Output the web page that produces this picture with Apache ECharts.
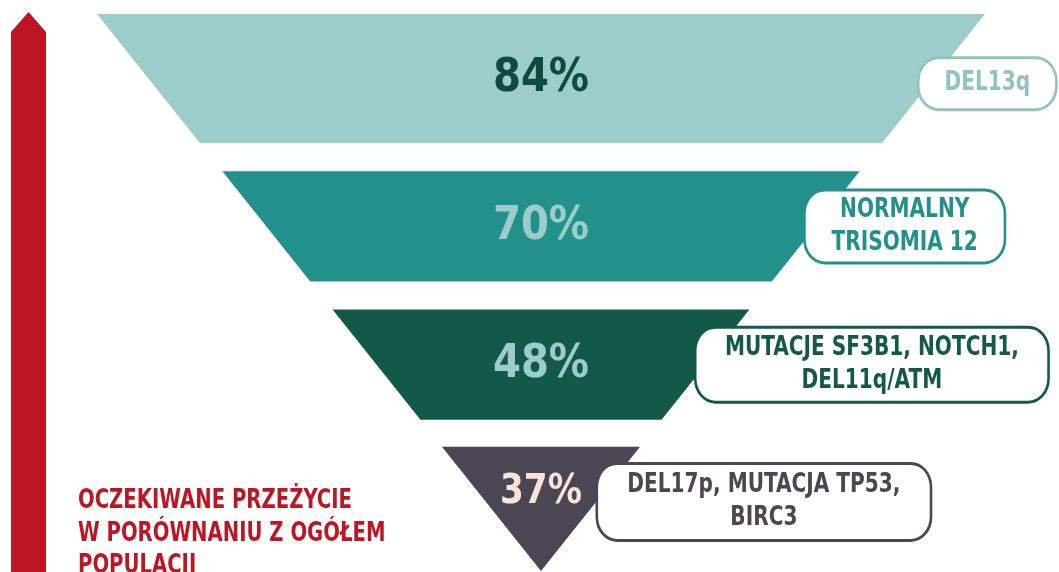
<!DOCTYPE html>
<html>
<head>
<meta charset="utf-8">
<script src="https://cdn.jsdelivr.net/npm/echarts@6/dist/echarts.min.js"></script>
<style>
  html, body { margin: 0; padding: 0; background: #fff; }
  #chart { width: 1059px; height: 572px; }
</style>
</head>
<body>
<div id="chart"></div>
<script>
// grupy genetyczne (od góry lejka) i oczekiwane przeżycie
const groups = [
  'DEL13q',
  'NORMALNY\nTRISOMIA 12',
  'MUTACJE SF3B1, NOTCH1,\nDEL11q/ATM',
  'DEL17p, MUTACJA TP53,\nBIRC3'
];
const survival = [84, 70, 48, 37];
const axisTitle = 'OCZEKIWANE PRZEŻYCIE\nW PORÓWNANIU Z OGÓŁEM\nPOPULACJI';

// style
const fills = ['#9ccdcb', '#22918c', '#12594a', '#4a4654'];
const pctColors = ['#0e4a3e', '#9ccdcb', '#9ccdcb', '#fbe3d9'];
const boxColors = ['#8fc4c1', '#22918c', '#12594a', '#4a4654'];
const pctSize = [47, 47, 47, 40];
const pctDy = [0, 0, 0, -16];
const topShift = [0, 11, 3, -6];
const bottomShift = [11, 3, -5, 0];
const boxShift = [-10, -10, -9, 2];
const boxDy = [5, 0, 0, -7];
const boxPad = [[8, 29], [2, 30], [3, 33], [4, 34]];
const FONT = '"Liberation Sans Narrow", "DejaVu Sans Condensed", "Roboto", sans-serif';
const SQUEEZE = 0.86;
const RED = '#bd1622';
const GAP = 28;

const measureCtx = document.createElement('canvas').getContext('2d');
function textWidth(str, size) {
  measureCtx.font = 'bold ' + size + 'px ' + FONT;
  return Math.max.apply(null, str.split('\n').map(s => measureCtx.measureText(s).width));
}

var myChart = echarts.init(document.getElementById('chart'));

function renderItem(params, api) {
  const i = api.value(1);
  const n = groups.length;
  const band = api.size([0, 1])[1];
  const c = api.coord([0, i]);
  const topY = api.coord([0, 0])[1] - band / 2 + GAP / 2;
  const apexY = api.coord([0, n - 1])[1] + band / 2 - GAP / 2;
  const maxHalf = api.size([50, 0])[0];
  const half = y => maxHalf * (apexY - y) / (apexY - topY);
  const y0 = c[1] - band / 2 + GAP / 2 + topShift[i];
  const y1 = c[1] + band / 2 - GAP / 2 + bottomShift[i];
  const mid = (y0 + y1) / 2;

  const boxFont = 26;
  const by = mid + boxDy[i];
  const w = (textWidth(groups[i], boxFont) + boxPad[i][1] * 2) * SQUEEZE;
  const boxLeft = c[0] + half(by) + boxShift[i];

  return {
    type: 'group',
    children: [
      {
        type: 'polygon',
        shape: {
          points: [
            [c[0] - half(y0), y0],
            [c[0] + half(y0), y0],
            [c[0] + half(y1), y1],
            [c[0] - half(y1), y1]
          ]
        },
        style: { fill: fills[i] }
      },
      {
        type: 'text',
        x: c[0],
        y: mid + pctDy[i],
        scaleX: 0.95,
        style: {
          text: api.value(2) + '%',
          fontSize: pctSize[i],
          fontWeight: 'bold',
          fontFamily: FONT,
          fill: pctColors[i],
          align: 'center',
          verticalAlign: 'middle'
        }
      },
      {
        type: 'text',
        x: boxLeft + w / 2,
        y: by,
        scaleX: SQUEEZE,
        z2: 10,
        style: {
          text: groups[i],
          fontSize: boxFont,
          fontWeight: 'bold',
          fontFamily: FONT,
          lineHeight: 33,
          fill: boxColors[i],
          align: 'center',
          verticalAlign: 'middle',
          backgroundColor: '#fff',
          borderColor: boxColors[i],
          borderWidth: 3,
          borderRadius: 22,
          padding: boxPad[i]
        }
      }
    ]
  };
}

var option = {
  backgroundColor: '#fff',
  animation: false,
  grid: { left: 97, width: 888, top: 0, height: 585, outerBoundsMode: 'none' },
  xAxis: { type: 'value', min: -50, max: 50, show: false },
  yAxis: { type: 'category', data: groups, inverse: true, show: false },
  graphic: [
    {
      type: 'polygon',
      shape: { points: [[11, 572], [11, 32], [28.5, 12], [46, 32], [46, 572]] },
      style: { fill: RED }
    },
    {
      type: 'text',
      left: 78,
      top: 485,
      scaleX: 0.84,
      style: {
        text: axisTitle,
        fontSize: 26,
        fontWeight: 'bold',
        fontFamily: FONT,
        lineHeight: 32.5,
        fill: RED
      }
    }
  ],
  series: [
    {
      type: 'custom',
      renderItem: renderItem,
      encode: { x: 0, y: 1 },
      silent: true,
      data: survival.map((v, i) => [0, i, v])
    }
  ]
};
option && myChart.setOption(option);
</script>
</body>
</html>
